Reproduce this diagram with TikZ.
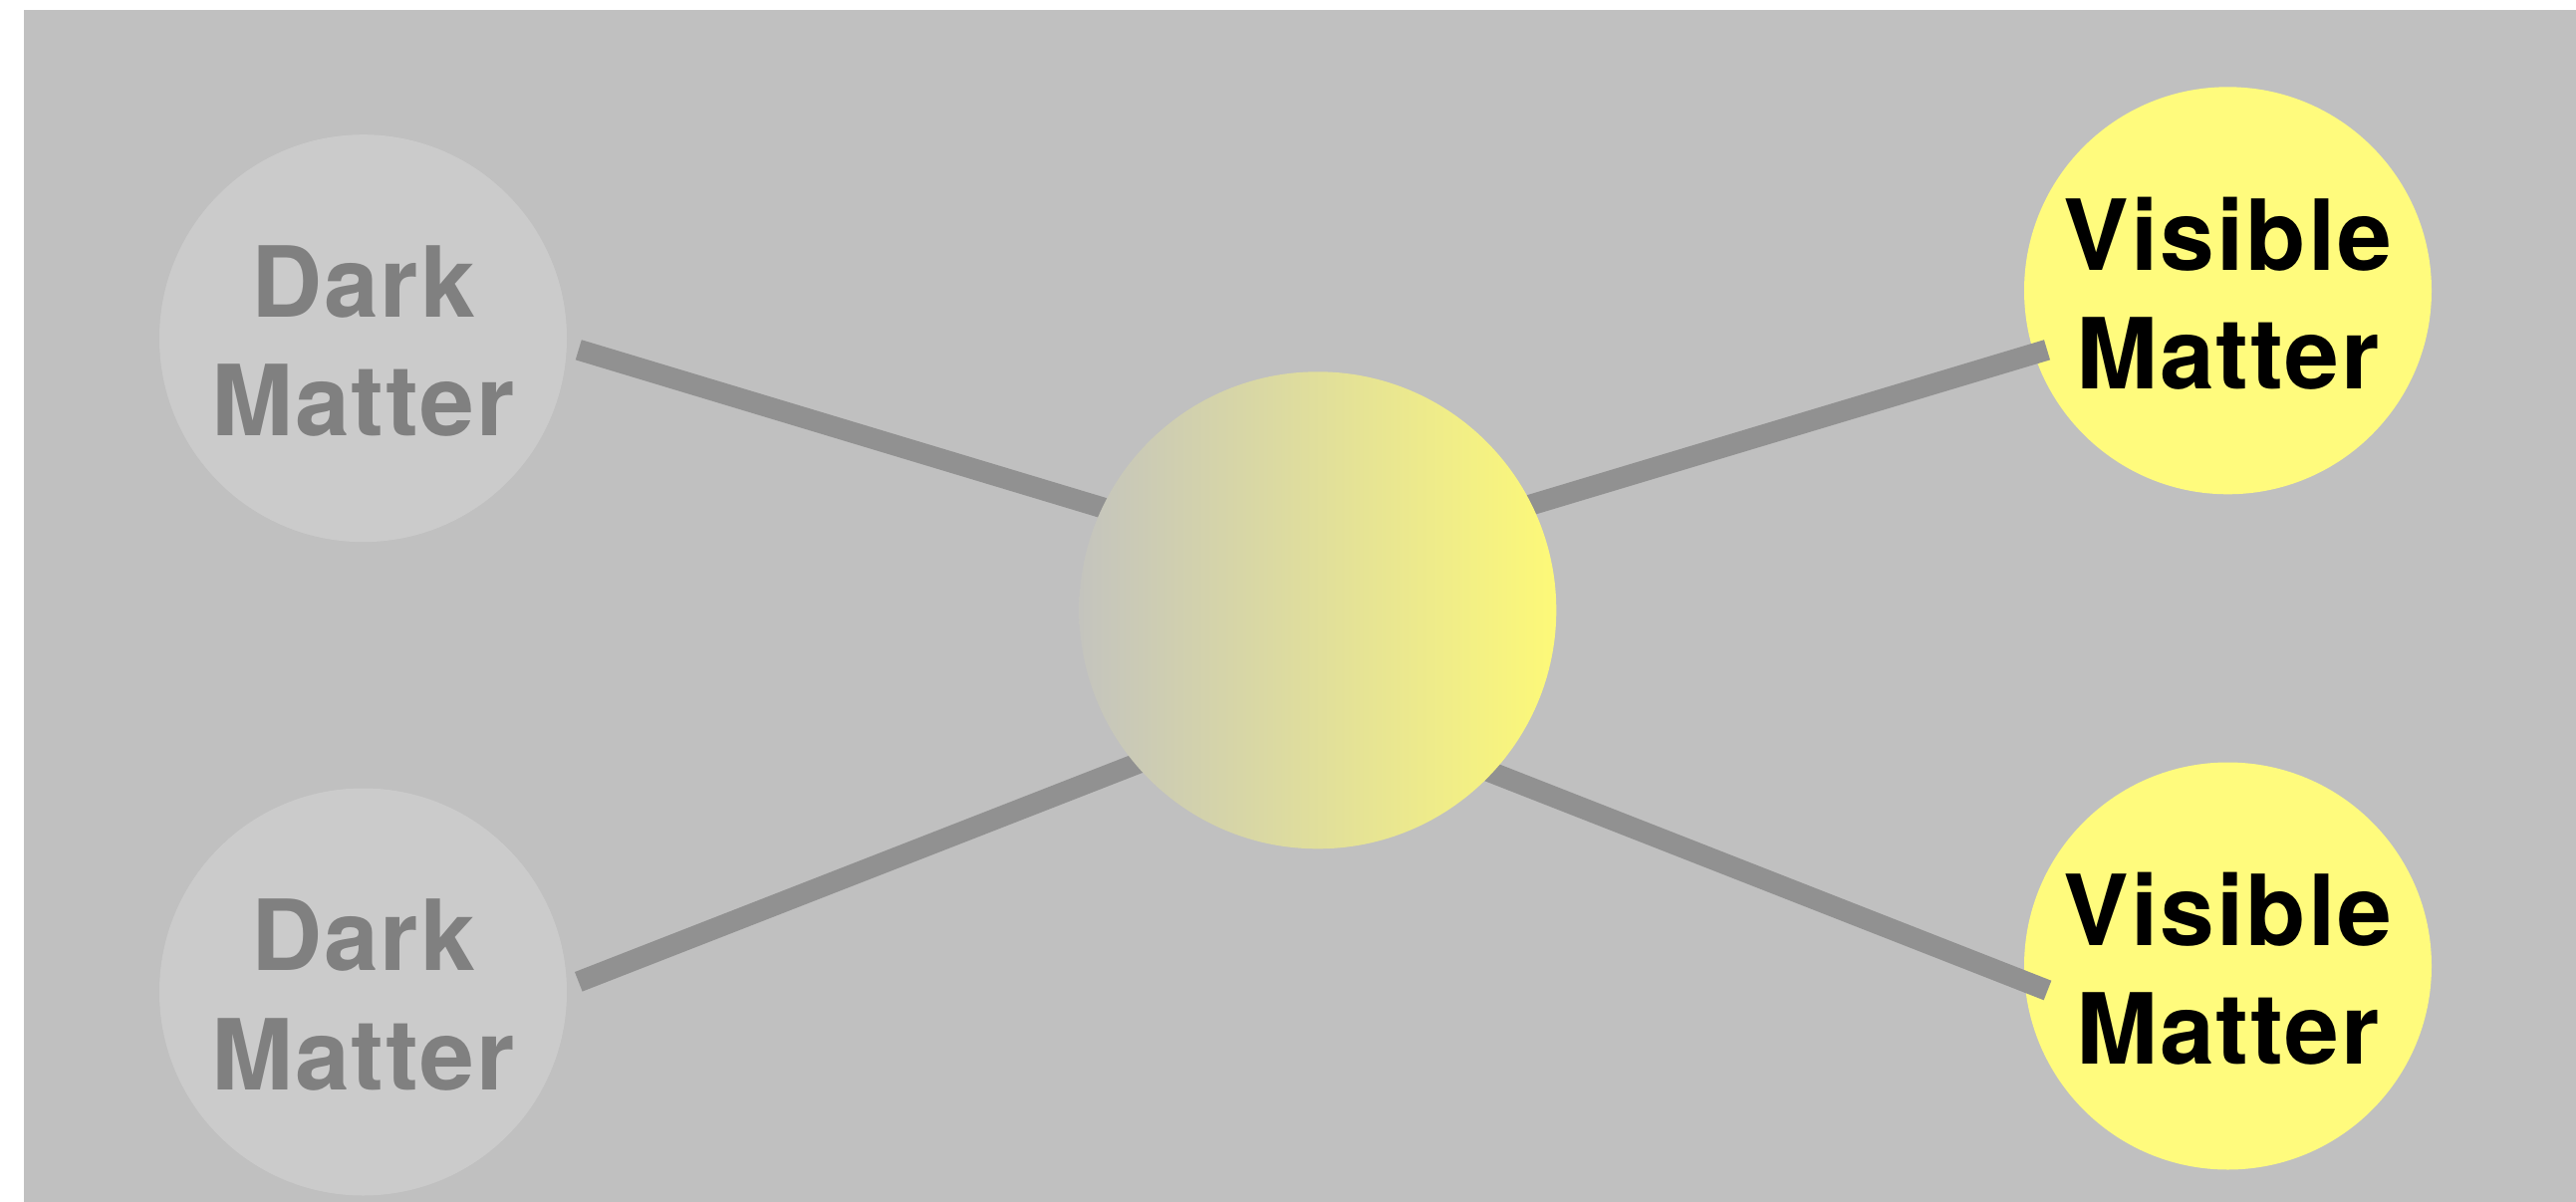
\documentclass[tikz,border=0pt]{standalone}
\usepackage{fontspec}
\setmainfont{TeX Gyre Heros}[LetterSpace=2]
\definecolor{bgc}{RGB}{192,192,192}
\definecolor{dmfill}{RGB}{203,203,203}
\definecolor{dmtext}{RGB}{128,128,128}
\definecolor{vmfill}{RGB}{255,251,125}
\definecolor{linec}{RGB}{145,145,145}
\definecolor{gradl}{RGB}{196,196,190}
\definecolor{gradr}{RGB}{253,249,120}
\begin{document}
\begin{tikzpicture}[x=1pt,y=-1pt,
  ball/.style={circle, minimum size=409pt, inner sep=0pt},
  darkball/.style={ball, fill=dmfill},
  visball/.style={ball, fill=vmfill},
  lbl/.style={inner sep=0pt, align=center, yshift=-3pt,
    font=\fontsize{98.5}{119.4}\selectfont\bfseries},
  darklbl/.style={lbl, text=dmtext},
  vislbl/.style={lbl, text=black},
  hubball/.style={circle, minimum size=479pt, inner sep=0pt, left color=gradl, right color=gradr},
  conn/.style={draw=linec, line width=21pt, line cap=butt}]
\useasboundingbox (0,0) rectangle (2586,1207);
\fill[white] (0,0) rectangle (2586,1207);
\fill[bgc] (24,10) rectangle (2586,1207);
\node[darkball] (dm1) at (364.5,339.7) {};
\node[darkball] (dm2) at (364.5,996) {};
\node[visball] (vm1) at (2236.5,291.8) {};
\node[visball] (vm2) at (2236.5,970) {};
\node[darklbl] (dm1t) at (dm1) {Dark\\Matter};
\node[darklbl] (dm2t) at (dm2) {Dark\\Matter};
\node[vislbl] (vm1t) at (vm1) {Visible\\Matter};
\node[vislbl] (vm2t) at (vm2) {Visible\\Matter};
\coordinate (hubT) at (1316.7,573.1);
\coordinate (hubB) at (1308.5,701.6);
\coordinate (e1) at (580.8,351.3);
\coordinate (e2) at (580.8,985.8);
\coordinate (e3) at (2055,351.3);
\coordinate (e4) at (2055.5,994.5);
\draw[conn] (e1) -- (hubT) -- (e3);
\draw[conn] (e2) -- (hubB) -- (e4);
\node[hubball] (hub) at (1322.8,612.8) {};
\end{tikzpicture}
\end{document}
